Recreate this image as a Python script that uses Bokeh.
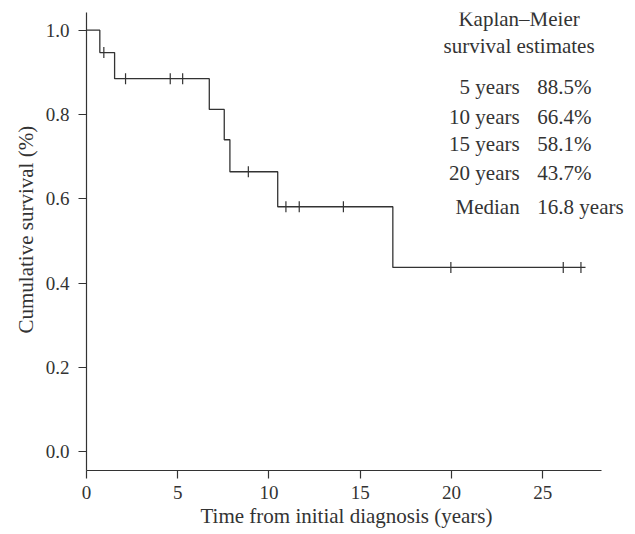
import numpy as np
from bokeh.plotting import figure
from bokeh.models import (ColumnDataSource, Range1d, FixedTicker,
                          NumeralTickFormatter, LabelSet, Title)
from bokeh.embed import file_html
from bokeh.resources import INLINE

# ---- data ----
event_times = [0.0, 0.73, 1.54, 6.73, 7.55, 7.86, 10.48, 16.79, 27.35]
survival = [1.0, 0.947, 0.885, 0.812, 0.740, 0.664, 0.581, 0.437, 0.437]
censor_times = [0.95, 2.14, 4.59, 5.27, 8.87, 10.93, 11.66, 14.08, 19.97, 26.13, 27.1]

x_ticks = [0, 5, 10, 15, 20, 25]
y_ticks = [0.0, 0.2, 0.4, 0.6, 0.8, 1.0]

table_title = ["Kaplan\u2013Meier", "survival estimates"]
row_labels = ["5 years", "10 years", "15 years", "20 years", "Median"]
row_values = ["88.5%", "66.4%", "58.1%", "43.7%", "16.8 years"]

# ---- layout of the annotation (data coordinates) ----
title_x = 23.71
title_y = [1.027, 0.963]
label_x = 23.74
value_x = 24.71
row_y = [0.866, 0.793, 0.729, 0.662, 0.581]

# censored marks sit on the step curve
idx = np.searchsorted(event_times, censor_times, side="right") - 1
censor_y = [survival[i] for i in idx]

FONT = "Liberation Serif"
INK = "#333333"
ANN_SIZE = "21px"

# frame runs to the right edge so the table text is not clipped;
# the x axis line itself stops at 28.23 via axis bounds
p = figure(width=635, height=534, output_backend="svg", toolbar_location=None,
           x_range=Range1d(0, 30.09), y_range=Range1d(-0.045, 1.042),
           min_border_left=86, min_border_right=0, min_border_top=12,
           min_border_bottom=64)
p.outline_line_color = None
p.grid.grid_line_color = None
p.background_fill_color = "white"

p.step(event_times, survival, mode="after", line_color=INK, line_width=1.3)
p.scatter(censor_times, censor_y, marker="dash", angle=np.pi / 2, size=11,
          line_color=INK, line_width=1.2)

src_title = ColumnDataSource(dict(x=[title_x] * len(table_title), y=title_y, text=table_title))
src_lab = ColumnDataSource(dict(x=[label_x] * len(row_labels), y=row_y, text=row_labels))
src_val = ColumnDataSource(dict(x=[value_x] * len(row_values), y=row_y, text=row_values))
for src, align in ((src_title, "center"), (src_lab, "right"), (src_val, "left")):
    p.add_layout(LabelSet(x="x", y="y", text="text", source=src,
                          text_font=FONT, text_font_size=ANN_SIZE,
                          text_color=INK, text_align=align,
                          text_baseline="middle"))

for ax in (p.xaxis[0], p.yaxis[0]):
    ax.axis_line_color = INK
    ax.axis_line_width = 1.2
    ax.major_tick_line_color = INK
    ax.major_tick_line_width = 1.2
    ax.major_tick_out = 8
    ax.major_tick_in = 0
    ax.minor_tick_line_color = None
    ax.major_label_text_font = FONT
    ax.major_label_text_font_size = "19px"
    ax.major_label_text_color = INK

p.xaxis.bounds = (0, 28.23)
p.xaxis.ticker = FixedTicker(ticks=x_ticks)
p.yaxis.ticker = FixedTicker(ticks=y_ticks)
p.yaxis.formatter = NumeralTickFormatter(format="0.0")
p.xaxis.major_label_standoff = 7
p.yaxis.major_label_standoff = 9

# axis titles
p.add_layout(Title(text="Time from initial diagnosis (years)", align="left",
                   offset=114, standoff=0, text_font=FONT,
                   text_font_size="21px", text_font_style="normal",
                   text_color=INK), "below")
p.add_layout(Title(text="Cumulative survival (%)", align="left",
                   offset=137, standoff=9, text_font=FONT,
                   text_font_size="21px", text_font_style="normal",
                   text_color=INK), "left")

open("out.html", "w").write(file_html(p, INLINE))
